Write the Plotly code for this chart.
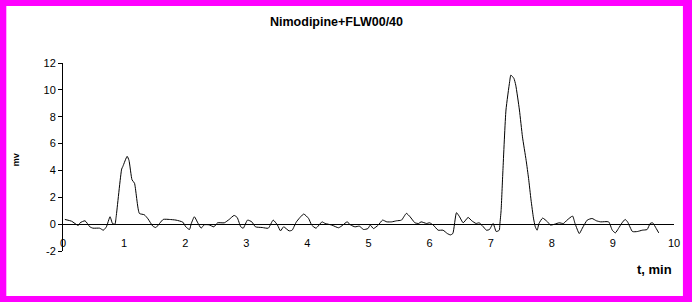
import plotly.graph_objects as go

# Chromatogram: time (min) and signal (mV)
t_min = [0.03, 0.14, 0.25, 0.28, 0.36, 0.44, 0.49, 0.60, 0.66, 0.71, 0.77, 0.81, 0.85, 0.87,
         0.96, 0.98, 1.05, 1.08, 1.13, 1.17, 1.25, 1.33, 1.39, 1.47, 1.52, 1.64, 1.74, 1.85,
         1.96, 2.01, 2.07, 2.10, 2.15, 2.20, 2.26, 2.31, 2.39, 2.47, 2.53, 2.64, 2.72, 2.80,
         2.85, 2.91, 2.95, 3.02, 3.09, 3.15, 3.26, 3.36, 3.44, 3.51, 3.56, 3.61, 3.70, 3.75,
         3.82, 3.94, 4.02, 4.07, 4.14, 4.24, 4.29, 4.40, 4.51, 4.58, 4.65, 4.71, 4.78, 4.85,
         4.92, 4.99, 5.03, 5.08, 5.16, 5.23, 5.30, 5.38, 5.46, 5.54, 5.62, 5.68, 5.76, 5.82,
         5.86, 5.95, 6.00, 6.06, 6.14, 6.22, 6.29, 6.34, 6.38, 6.44, 6.49, 6.55, 6.63, 6.69,
         6.76, 6.81, 6.87, 6.93, 6.98, 7.04, 7.09, 7.14, 7.15, 7.17, 7.20, 7.25, 7.31, 7.33,
         7.38, 7.41, 7.47, 7.52, 7.58, 7.62, 7.66, 7.70, 7.73, 7.76, 7.79, 7.85, 7.93, 7.98,
         8.05, 8.12, 8.19, 8.25, 8.34, 8.38, 8.45, 8.50, 8.58, 8.66, 8.73, 8.80, 8.93, 8.99,
         9.04, 9.09, 9.15, 9.20, 9.24, 9.32, 9.40, 9.48, 9.56, 9.61, 9.65, 9.71, 9.75]
signal_mv = [0.35, 0.22, -0.1, 0.1, 0.25, -0.2, -0.3, -0.3, -0.45, -0.2, 0.55, 0.05, 0.0, 0.55,
             4.1, 4.3, 5.05, 4.75, 3.3, 3.05, 0.8, 0.7, 0.4, -0.15, -0.25, 0.35, 0.35, 0.3,
             0.15, -0.2, -0.4, 0.05, 0.55, 0.15, -0.3, -0.05, -0.05, -0.2, 0.1, 0.1, 0.35, 0.65,
             0.5, -0.2, -0.3, 0.3, 0.17, -0.2, -0.25, -0.3, 0.3, -0.07, -0.5, -0.2, -0.5, -0.45,
             0.17, 0.75, 0.42, -0.07, -0.3, 0.17, 0.05, -0.07, -0.27, -0.07, 0.17, -0.07, -0.2, -0.15,
             -0.4, -0.33, -0.07, -0.33, -0.07, 0.3, 0.17, 0.17, 0.25, 0.3, 0.8, 0.55, 0.1, 0.05,
             0.17, 0.05, 0.1, -0.07, -0.45, -0.45, -0.7, -0.8, -0.7, 0.85, 0.55, 0.1, 0.5, 0.25,
             0.05, 0.1, -0.15, -0.45, -0.4, 0.05, -0.55, -0.45, 0.0, 1.0, 4.0, 8.5, 10.6, 11.1,
             10.85, 10.35, 8.5, 6.5, 4.75, 3.4, 1.8, 0.45, -0.2, -0.45, 0.05, 0.45, 0.17, -0.07,
             0.0, 0.1, 0.05, 0.3, 0.6, 0.05, -0.7, -0.3, 0.3, 0.42, 0.25, 0.17, 0.17, -0.45,
             -0.65, -0.33, 0.1, 0.35, 0.17, -0.55, -0.55, -0.45, -0.4, 0.05, 0.1, -0.33, -0.65]

x_ticks = [0, 1, 2, 3, 4, 5, 6, 7, 8, 9, 10]
y_ticks = [-2, 0, 2, 4, 6, 8, 10, 12]

title_text = "Nimodipine+FLW00/40"
x_title = "t, min"
y_title = "mv"

W, H = 692, 302
L, R, T, B = 63, 15, 63, 51
pw, ph = W - L - R, H - T - B

FONT = "Liberation Sans, Arial, sans-serif"

fig = go.Figure()
fig.add_trace(go.Scatter(
    x=t_min, y=signal_mv, mode="lines",
    line=dict(color="black", width=1, shape="spline", smoothing=0.5),
    showlegend=False, hoverinfo="skip",
))

ymin, ymax = -2, 12
zero_pos = (0 - ymin) / (ymax - ymin)

fig.update_layout(
    width=W, height=H,
    margin=dict(l=L, r=R, t=T, b=B),
    paper_bgcolor="white", plot_bgcolor="white",
    font=dict(family=FONT, color="black", size=11),
    xaxis=dict(
        range=[0, 10], tickvals=x_ticks, ticktext=[str(v) for v in x_ticks],
        showgrid=False, zeroline=False, showline=True, linecolor="black", linewidth=1,
        ticks="", anchor="free", position=zero_pos, ticklabelstandoff=9,
        tickfont=dict(size=11, family=FONT, color="black"),
    ),
    yaxis=dict(
        range=[ymin, ymax], tickvals=y_ticks, ticktext=[str(v) for v in y_ticks],
        showgrid=False, zeroline=False, showline=True, linecolor="black", linewidth=1,
        ticks="outside", ticklen=4, tickcolor="black",
        tickfont=dict(size=11, family=FONT, color="black"),
    ),
    shapes=[dict(
        type="rect", xref="paper", yref="paper",
        x0=-L / pw, x1=(W - L) / pw, y0=-B / ph, y1=1 + T / ph,
        line=dict(color="#ff00ff", width=12), fillcolor="rgba(0,0,0,0)",
    )],
    annotations=[
        dict(text="<b>" + title_text + "</b>", xref="paper", yref="paper",
             x=(338 - L) / pw, y=1 + (T - 22) / ph, showarrow=False,
             xanchor="center", yanchor="middle", font=dict(size=12.5, family=FONT)),
        dict(text="<b>" + x_title + "</b>", xref="paper", yref="paper",
             x=(677 - L) / pw, y=-(269 - (T + ph)) / ph, showarrow=False,
             xanchor="right", yanchor="middle", font=dict(size=13, family=FONT)),
        dict(text="<b>" + y_title + "</b>", xref="paper", yref="paper",
             x=(16 - L) / pw, y=1 - (160 - T) / ph, showarrow=False, textangle=-90,
             xanchor="center", yanchor="middle", font=dict(size=9, family=FONT)),
    ],
)

fig.write_html("out.html")
